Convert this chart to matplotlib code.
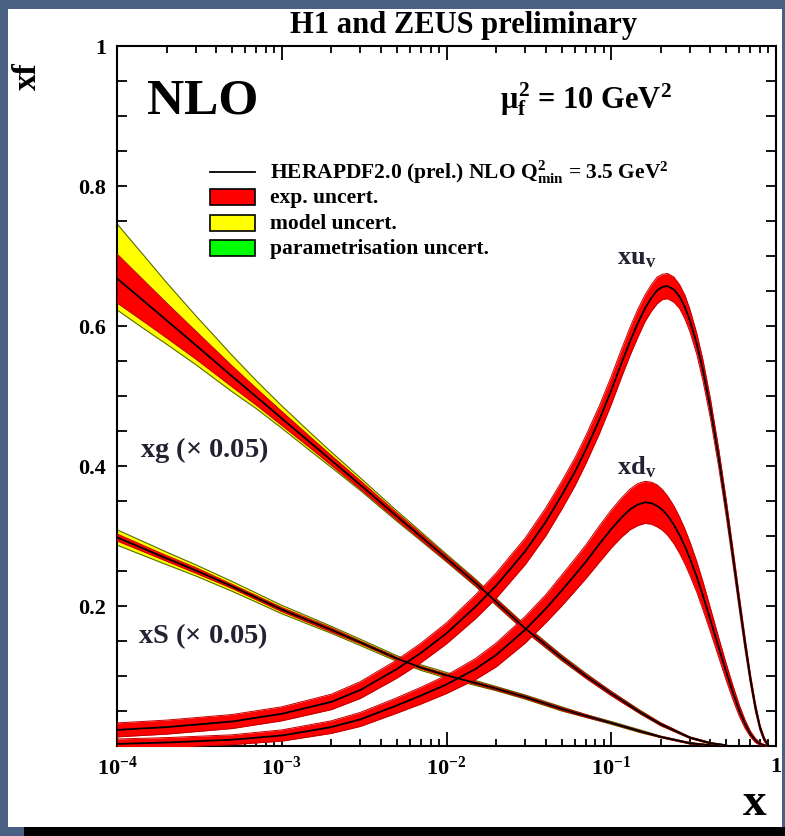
import numpy as np
import matplotlib
matplotlib.use("Agg")
import matplotlib.pyplot as plt
from matplotlib.patches import Rectangle
from matplotlib.ticker import LogLocator, NullFormatter, MultipleLocator

plt.rcParams['font.family'] = 'Liberation Serif'
plt.rcParams['font.weight'] = 'bold'
plt.rcParams['mathtext.fontset'] = 'custom'
plt.rcParams['mathtext.rm'] = 'Liberation Serif:bold'
plt.rcParams['mathtext.it'] = 'Liberation Serif:bold'
plt.rcParams['mathtext.bf'] = 'Liberation Serif:bold'

# ---------------------------
# PDF values at mu_f^2 = 10 GeV^2
# ---------------------------
# gluon (scaled by 0.05)
xg_x = [1e-4, 1.5e-4, 2e-4, 3e-4, 5e-4, 7e-4, 1e-3, 1.5e-3, 2e-3, 3e-3, 5e-3, 7e-3, 1e-2,
        1.5e-2, 2e-2, 3e-2, 5e-2, 0.07, 0.1, 0.15, 0.2, 0.3, 0.4, 0.5]
xg_c = [0.668, 0.633, 0.608, 0.573, 0.528, 0.499, 0.468, 0.433, 0.408, 0.373, 0.328, 0.299, 0.268,
        0.233, 0.206, 0.168, 0.126, 0.100, 0.075, 0.048, 0.031, 0.012, 0.004, 0.001]
xg_exp = [0.035, 0.029, 0.025, 0.020, 0.015, 0.012, 0.010, 0.008, 0.007, 0.006, 0.005, 0.0045, 0.004,
          0.004, 0.004, 0.004, 0.003, 0.003, 0.003, 0.002, 0.002, 0.001, 0.001, 0.0005]
xg_mod_up = [0.078, 0.064, 0.054, 0.042, 0.030, 0.023, 0.018, 0.014, 0.012, 0.010, 0.008, 0.007, 0.006,
             0.0055, 0.005, 0.005, 0.004, 0.004, 0.003, 0.003, 0.002, 0.001, 0.001, 0.0005]
xg_mod_dn = [0.045, 0.039, 0.034, 0.028, 0.022, 0.017, 0.014, 0.012, 0.010, 0.008, 0.007, 0.006, 0.005,
             0.005, 0.005, 0.004, 0.004, 0.003, 0.003, 0.002, 0.002, 0.001, 0.001, 0.0005]

# sea (scaled by 0.05)
xs_x = [1e-4, 2e-4, 3e-4, 5e-4, 7e-4, 1e-3, 1.5e-3, 2e-3, 3e-3, 5e-3, 7e-3, 1e-2, 1.5e-2, 2e-2,
        3e-2, 5e-2, 0.07, 0.1, 0.15, 0.2, 0.3, 0.4]
xs_c = [0.298, 0.268, 0.251, 0.228, 0.212, 0.195, 0.178, 0.166, 0.148, 0.125, 0.112, 0.101, 0.090, 0.082,
        0.070, 0.053, 0.043, 0.033, 0.021, 0.013, 0.004, 0.001]
xs_exp = [0.005, 0.004, 0.004, 0.003, 0.003, 0.003, 0.003, 0.003, 0.002, 0.002, 0.002, 0.002, 0.002, 0.002,
          0.002, 0.002, 0.002, 0.001, 0.001, 0.001, 0.001, 0.0005]
xs_mod = [0.011, 0.009, 0.008, 0.007, 0.0065, 0.006, 0.0055, 0.005, 0.0045, 0.004, 0.004, 0.004, 0.0035, 0.003,
          0.003, 0.003, 0.002, 0.002, 0.002, 0.001, 0.001, 0.0005]

# valence
xv_x = [1e-4, 2e-4, 5e-4, 1e-3, 2e-3, 3e-3, 5e-3, 7e-3, 1e-2, 1.5e-2,
        2e-2, 3e-2, 4e-2, 5e-2, 0.06, 0.07, 0.085, 0.1, 0.115, 0.13,
        0.145, 0.16, 0.175, 0.19, 0.205, 0.22, 0.24, 0.26, 0.28, 0.3,
        0.33, 0.36, 0.4, 0.45, 0.5, 0.55, 0.6, 0.65, 0.7, 0.75,
        0.8, 0.85, 0.9]
xuv_c = [0.023, 0.027, 0.035, 0.046, 0.063, 0.080, 0.110, 0.133, 0.161, 0.199,
         0.229, 0.278, 0.320, 0.358, 0.391, 0.423, 0.467, 0.508, 0.546, 0.578,
         0.604, 0.625, 0.640, 0.651, 0.656, 0.657, 0.652, 0.642, 0.627, 0.608,
         0.575, 0.537, 0.482, 0.410, 0.338, 0.268, 0.203, 0.145, 0.095, 0.055,
         0.026, 0.009, 0.001]
xuv_exp = [0.010, 0.010, 0.010, 0.010, 0.011, 0.012, 0.013, 0.014, 0.015, 0.017,
           0.018, 0.019, 0.020, 0.020, 0.020, 0.020, 0.020, 0.020, 0.020, 0.020,
           0.020, 0.019, 0.019, 0.019, 0.018, 0.018, 0.018, 0.017, 0.017, 0.016,
           0.015, 0.015, 0.014, 0.013, 0.012, 0.011, 0.010, 0.009, 0.007, 0.006,
           0.004, 0.003, 0.001]
xdv_c = [0.003, 0.005, 0.009, 0.015, 0.027, 0.038, 0.058, 0.072, 0.088, 0.110,
         0.130, 0.166, 0.196, 0.222, 0.244, 0.263, 0.289, 0.310, 0.326, 0.338,
         0.345, 0.348, 0.347, 0.343, 0.337, 0.329, 0.316, 0.301, 0.285, 0.268,
         0.242, 0.215, 0.180, 0.140, 0.105, 0.075, 0.050, 0.031, 0.017, 0.008,
         0.003, 0.001, 0.0]
xdv_exp = [0.007, 0.007, 0.007, 0.008, 0.009, 0.010, 0.011, 0.012, 0.013, 0.015,
           0.017, 0.019, 0.020, 0.022, 0.023, 0.024, 0.026, 0.027, 0.028, 0.029,
           0.030, 0.030, 0.030, 0.030, 0.029, 0.028, 0.027, 0.026, 0.025, 0.024,
           0.022, 0.020, 0.017, 0.014, 0.012, 0.010, 0.008, 0.006, 0.004, 0.003,
           0.002, 0.001, 0.0]

RED = '#ff0000'
YELLOW = '#ffff00'
GREEN = '#00ff00'


def draw_pdf(ax, x, c, exp, mod_up=None, mod_dn=None):
    x = np.array(x)
    c = np.array(c)
    exp = np.array(exp)
    if mod_up is not None:
        up = c + np.array(mod_up)
        dn = c - np.array(mod_dn)
        ax.fill_between(x, dn, up, color=YELLOW, lw=0, zorder=2)
        ax.plot(x, up, color='#556b00', lw=0.8, zorder=2)
        ax.plot(x, dn, color='#556b00', lw=0.8, zorder=2)
    ax.fill_between(x, c - exp, c + exp, color=RED, lw=0, zorder=3)
    ax.plot(x, c + exp, color='#c00000', lw=0.7, zorder=3)
    ax.plot(x, c - exp, color='#c00000', lw=0.7, zorder=3)
    ax.plot(x, c, color='black', lw=1.3, zorder=4)


W, H = 785, 837
fig = plt.figure(figsize=(W / 100, H / 100), dpi=100)
fig.patch.set_facecolor('#4a6183')


def fx(px):
    return px / W


def fy(py):
    return 1 - py / H


# white slide panel and black strip at the bottom
fig.add_artist(Rectangle((fx(8), fy(828)), fx(782) - fx(8), fy(10) - fy(828),
                         transform=fig.transFigure, facecolor='white', edgecolor='none', zorder=-10))
fig.add_artist(Rectangle((fx(24), 0), 1, fy(828), transform=fig.transFigure,
                         facecolor='black', edgecolor='none', zorder=-10))

ax = fig.add_axes([fx(117), fy(747), fx(776) - fx(117), fy(47) - fy(747)])
ax.set_xscale('log')
ax.set_xlim(1e-4, 1)
ax.set_ylim(0, 1)

draw_pdf(ax, xg_x, xg_c, xg_exp, xg_mod_up, xg_mod_dn)
draw_pdf(ax, xs_x, xs_c, xs_exp, xs_mod, xs_mod)
draw_pdf(ax, xv_x, xdv_c, xdv_exp)
draw_pdf(ax, xv_x, xuv_c, xuv_exp)

# axes styling
for s in ax.spines.values():
    s.set_linewidth(1.5)
ax.xaxis.set_minor_locator(LogLocator(base=10, subs=np.arange(2, 10), numticks=10))
ax.xaxis.set_minor_formatter(NullFormatter())
ax.set_xticks([1e-4, 1e-3, 1e-2, 1e-1, 1])
ax.set_xticklabels([r'$10^{-4}$', r'$10^{-3}$', r'$10^{-2}$', r'$10^{-1}$', '1'])
ax.set_yticks([0.2, 0.4, 0.6, 0.8, 1.0])
ax.set_yticklabels(['0.2', '0.4', '0.6', '0.8', '1'])
ax.yaxis.set_minor_locator(MultipleLocator(0.05))
ax.tick_params(axis='both', which='both', direction='in', top=True, right=True, width=1.3)
ax.tick_params(axis='x', which='major', length=10, labelsize=16, pad=7)
ax.tick_params(axis='x', which='minor', length=5)
ax.tick_params(axis='y', which='both', length=7, labelsize=16, pad=8)

# texts
fig.text(fx(464), fy(25), 'H1 and ZEUS preliminary', ha='center', va='center', fontsize=22)
fig.text(fx(27), fy(76), 'xf', rotation=90, ha='center', va='center', fontsize=24)
fig.text(fx(755), fy(804), 'x', ha='center', va='center', fontsize=34)
fig.text(fx(147), fy(101), 'NLO', ha='left', va='center', fontsize=37)
fig.text(fx(500), fy(99), r'$\mu^2_f$ = 10 GeV$^2$', ha='left', va='center', fontsize=22)

# legend
lx0, lx1 = 210, 255
fig.add_artist(plt.Line2D([fx(lx0), fx(lx1)], [fy(173), fy(173)], color='black', lw=1.3,
                          transform=fig.transFigure))
fig.text(fx(270), fy(172), r'HERAPDF2.0 (prel.) NLO Q$^2_{\rm min}$ = 3.5 GeV$^2$',
         ha='left', va='center', fontsize=15.5)
for yy, col, lab in [(198, RED, 'exp. uncert.'), (224, YELLOW, 'model uncert.'),
                     (249, GREEN, 'parametrisation uncert.')]:
    fig.add_artist(Rectangle((fx(lx0), fy(yy + 8)), fx(lx1) - fx(lx0), fy(yy - 8) - fy(yy + 8),
                             transform=fig.transFigure, facecolor=col, edgecolor='black', lw=1.2))
    fig.text(fx(270), fy(yy), lab, ha='left', va='center', fontsize=15.5)

# curve labels
fig.text(fx(140), fy(450), r'xg ($\times$ 0.05)', ha='left', va='center', fontsize=20.5, color='#222233')
fig.text(fx(138), fy(636), r'xS ($\times$ 0.05)', ha='left', va='center', fontsize=20.5, color='#222233')
fig.text(fx(617), fy(258), r'xu$_{\rm v}$', ha='left', va='center', fontsize=19, color='#222233')
fig.text(fx(617), fy(467), r'xd$_{\rm v}$', ha='left', va='center', fontsize=19, color='#222233')

fig.savefig('out.png', dpi=100, facecolor=fig.get_facecolor())
